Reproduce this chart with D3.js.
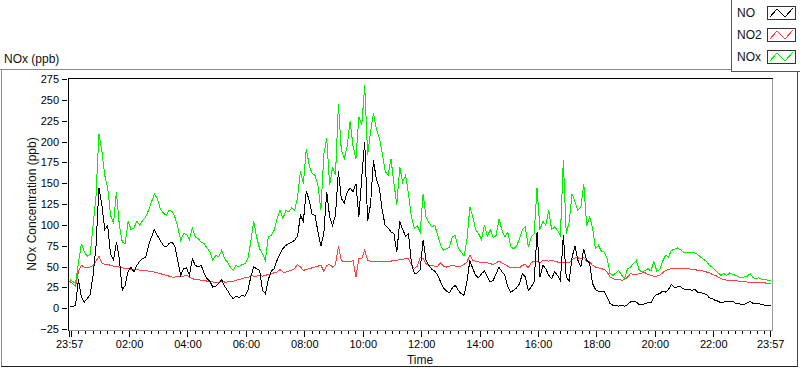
<!DOCTYPE html>
<html>
<head>
<meta charset="utf-8">
<script src="https://cdn.jsdelivr.net/npm/d3@7"></script>
<style>
  body { margin: 0; background: #fff; }
  svg { display: block; font-family: "Liberation Sans", Arial, sans-serif; }
</style>
</head>
<body>
<div id="chart"></div>
<script>
// one reading every 6 minutes, 23:57 -> 23:57
var stepMinutes = 6;

var noValues = [
  3,2,4,35,14,8,12,17,40,75,145,125,95,100,65,58,80,60,22,28,45,50,44,52,57,60,62,76,86,95,88,82,76,74,78,80,75,58,40,48,
  49,40,60,52,50,52,43,36,33,26,27,30,35,27,22,16,12,15,13,16,15,22,38,50,48,46,22,18,35,45,48,58,66,72,76,78,80,82,87,112,
  105,141,130,113,112,92,75,90,140,110,100,112,165,132,127,140,145,140,150,110,158,200,105,125,178,155,145,118,100,97,92,90,68,105,95,87,90,55,42,43,
  47,82,58,52,47,45,40,32,25,21,19,25,28,22,18,16,32,58,48,40,37,42,45,38,32,34,42,50,44,40,26,20,22,25,30,42,38,22,26,32,92,
  38,52,48,40,36,44,40,33,88,38,33,62,75,58,50,72,58,55,30,23,21,20,21,14,6,4,4,3,4,3,5,8,9,8,5,5,6,7,7,14,
  17,18,21,20,23,29,26,26,27,24,23,23,22,23,20,20,18,17,13,12,10,9,7,8,9,8,9,6,6,5,5,7,9,6,6,6,5,4,4,4
];

var no2Values = [
  33,30,27,45,52,50,50,50,52,57,63,55,53,53,52,51,51,50,49,48,48,47,47,47,46,46,46,45,45,44,43,42,41,40,39,38,38,39,38,39,
  40,38,36,35,35,34,34,33,33,32,32,32,33,32,32,33,33,34,35,36,37,37,40,39,39,40,39,40,41,42,43,44,47,44,44,45,46,48,53,50,
  46,47,48,49,50,51,52,45,52,53,50,53,75,58,56,57,56,58,38,60,60,70,58,57,57,56,57,56,57,56,57,58,58,59,59,60,60,52,48,51,
  61,60,54,52,52,51,51,55,51,50,51,52,51,50,51,53,56,64,58,57,56,56,55,55,54,53,55,57,55,53,51,49,50,50,49,52,53,49,55,57,57,
  55,58,58,57,58,57,56,56,56,55,55,59,61,61,60,61,57,56,52,50,49,48,47,44,38,36,35,35,34,35,38,42,41,41,42,43,43,41,40,39,
  39,40,43,46,47,48,48,48,48,48,48,48,47,47,46,46,45,44,43,41,40,38,36,35,34,34,34,34,33,33,33,32,32,32,32,31,31,31,30,30
];

var noxValues = [
  35,33,30,55,78,68,63,65,100,135,210,190,160,145,112,102,140,100,80,78,105,95,97,105,100,106,110,118,128,138,132,120,115,112,118,117,110,98,82,90,
  89,83,97,86,84,80,78,73,68,58,64,62,70,60,56,50,46,52,50,53,54,60,80,105,86,72,66,58,86,88,94,108,118,108,118,116,121,118,133,165,
  150,192,172,162,160,148,118,185,205,148,170,160,245,190,180,195,225,195,180,230,220,268,185,212,235,215,205,187,165,160,180,150,125,170,152,160,138,110,96,99,
  92,138,110,103,98,100,88,76,70,72,74,86,88,73,68,63,82,122,110,95,90,83,100,87,95,85,88,108,94,86,92,74,72,75,84,95,98,74,86,90,145,
  95,105,100,118,95,98,94,88,178,90,104,138,128,118,122,150,99,110,97,72,76,69,68,60,42,40,43,46,40,36,48,50,54,58,46,44,46,48,45,57,
  45,47,57,64,62,70,71,73,71,68,68,67,68,67,65,62,59,57,52,50,46,43,40,42,40,43,41,40,38,37,38,39,42,37,36,37,35,35,34,34
];

var seriesNames = ["NO", "NO2", "NOx"];
var seriesColors = ["#000000", "#ff4040", "#00f000"];
var yTicks = [-25, 0, 25, 50, 75, 100, 125, 150, 175, 200, 225, 250, 275];
var xTickLabels = ["23:57", "02:00", "04:00", "06:00", "08:00", "10:00", "12:00",
                   "14:00", "16:00", "18:00", "20:00", "22:00", "23:57"];

// basic setup
var svgWidth = 800;
var svgHeight = 369;
var plot = { left: 68, top: 78, right: 772, bottom: 330 };

var startTime = new Date(2000, 0, 1, 23, 57);
var endTime = new Date(2000, 0, 2, 23, 57);
var midnight = new Date(2000, 0, 2, 0, 0);
var times = noValues.map((d, i) => new Date(startTime.getTime() + i * stepMinutes * 60000));

var x = d3.scaleTime().domain([startTime, endTime]).range([69.7, 770.7]);
var y = d3.scaleLinear().domain([-25, 275]).range([329.5, 79.5]);

var svg = d3.select("#chart").append("svg")
  .attr("width", svgWidth)
  .attr("height", svgHeight);

// outer panel
svg.append("line").attr("x1", 0).attr("x2", 731).attr("y1", 69.5).attr("y2", 69.5).attr("stroke", "#8a8a8a");
svg.append("line").attr("x1", 1.5).attr("x2", 1.5).attr("y1", 69).attr("y2", 367).attr("stroke", "#8a8a8a");
svg.append("line").attr("x1", 1).attr("x2", 798).attr("y1", 366.5).attr("y2", 366.5).attr("stroke", "#222");
svg.append("line").attr("x1", 797.5).attr("x2", 797.5).attr("y1", 72).attr("y2", 367).attr("stroke", "#444");

svg.append("text").attr("x", 4).attr("y", 63).style("font-size", "12px").attr("fill", "#111").text("NOx (ppb)");

// plot frame
svg.append("rect").attr("x", plot.left).attr("y", plot.top)
  .attr("width", plot.right - plot.left).attr("height", plot.bottom - plot.top).attr("fill", "#fff");

svg.append("clipPath").attr("id", "clip").append("rect")
  .attr("x", plot.left + 1).attr("y", plot.top + 1)
  .attr("width", plot.right - plot.left - 1).attr("height", plot.bottom - plot.top - 1);

// y axis
var yAxis = svg.append("g")
  .attr("transform", "translate(67,0)")
  .call(d3.axisLeft(y).tickValues(yTicks).tickSize(5).tickPadding(3).offset(0));
yAxis.select(".domain").remove();
yAxis.selectAll("line").attr("stroke", "#000").attr("shape-rendering", "crispEdges");
yAxis.selectAll("text").style("font-size", "11px").attr("fill", "#000");

// x axis, minor ticks every 15 minutes
var minorTicks = [startTime].concat(d3.timeMinutes(midnight, endTime, 15), [endTime]);
var xMinor = svg.append("g")
  .attr("transform", "translate(0,331)")
  .call(d3.axisBottom(x).tickValues(minorTicks).tickSize(3).tickFormat("").offset(0));
xMinor.select(".domain").remove();
xMinor.selectAll("line").attr("stroke", "#000").attr("shape-rendering", "crispEdges");

// x axis, labelled ticks
var labelTimes = xTickLabels.map(function(s, i) {
  if (i === 0) return startTime;
  if (i === xTickLabels.length - 1) return endTime;
  var p = s.split(":");
  return new Date(2000, 0, 2, +p[0], +p[1]);
});
var xMajor = svg.append("g")
  .attr("transform", "translate(0,331)")
  .call(d3.axisBottom(x)
    .tickValues(labelTimes.concat([midnight]))
    .tickSize(6).tickPadding(3).offset(0)
    .tickFormat(function(d) {
      var k = labelTimes.findIndex(t => t.getTime() === d.getTime());
      return k < 0 ? "" : xTickLabels[k];
    }));
xMajor.select(".domain").remove();
xMajor.selectAll("line").attr("stroke", "#000").attr("shape-rendering", "crispEdges");
xMajor.selectAll("text").style("font-size", "11px").attr("fill", "#000");

// axis titles
svg.append("text")
  .attr("x", (plot.left + plot.right) / 2)
  .attr("y", 364)
  .attr("text-anchor", "middle")
  .style("font-size", "12px").attr("fill", "#111")
  .text("Time");

svg.append("text")
  .attr("transform", "rotate(-90)")
  .attr("x", -(plot.top + plot.bottom) / 2)
  .attr("y", 36)
  .attr("text-anchor", "middle")
  .style("font-size", "12px").attr("fill", "#111")
  .text("NOx Concentration (ppb)");

// data lines (NOx behind, NO on top)
var line = d3.line()
  .x((d, i) => x(times[i]))
  .y(d => y(d));

var allSeries = [noValues, no2Values, noxValues];
var lineGroup = svg.append("g").attr("clip-path", "url(#clip)");
[2, 1, 0].forEach(function(k) {
  lineGroup.append("path")
    .datum(allSeries[k])
    .attr("d", line)
    .attr("fill", "none")
    .attr("stroke", seriesColors[k])
    .attr("stroke-width", 1)
    .attr("shape-rendering", "crispEdges");
});

// frame edges on top of lines
svg.append("line").attr("x1", plot.left).attr("x2", plot.right + 1).attr("y1", plot.top + 0.5).attr("y2", plot.top + 0.5).attr("stroke", "#000");
svg.append("line").attr("x1", plot.left + 0.5).attr("x2", plot.left + 0.5).attr("y1", plot.top).attr("y2", plot.bottom + 1).attr("stroke", "#000");
svg.append("line").attr("x1", plot.right + 0.5).attr("x2", plot.right + 0.5).attr("y1", plot.top + 1).attr("y2", plot.bottom + 1).attr("stroke", "#9a9a9a");
svg.append("line").attr("x1", plot.left + 1).attr("x2", plot.right + 1).attr("y1", plot.bottom + 0.5).attr("y2", plot.bottom + 0.5).attr("stroke", "#9a9a9a");

// legend
var legend = svg.append("g");
legend.append("rect")
  .attr("x", 731.5).attr("y", -1).attr("width", 70).attr("height", 72.5)
  .attr("fill", "#fff").attr("stroke", "#555");

seriesNames.forEach(function(name, k) {
  var top = 6 + k * 22;
  legend.append("text")
    .attr("x", 737).attr("y", top + 11)
    .style("font-size", "12px").attr("fill", "#111")
    .text(name);
  legend.append("rect")
    .attr("x", 767.5).attr("y", top + 0.5).attr("width", 28).attr("height", 13)
    .attr("fill", "#fff").attr("stroke", "#333");
  legend.append("polyline")
    .attr("points", [[770, top + 11], [777, top + 3], [785, top + 11], [793, top + 2]].join(" "))
    .attr("fill", "none")
    .attr("stroke", seriesColors[k])
    .attr("shape-rendering", "crispEdges");
});
</script>
</body>
</html>
